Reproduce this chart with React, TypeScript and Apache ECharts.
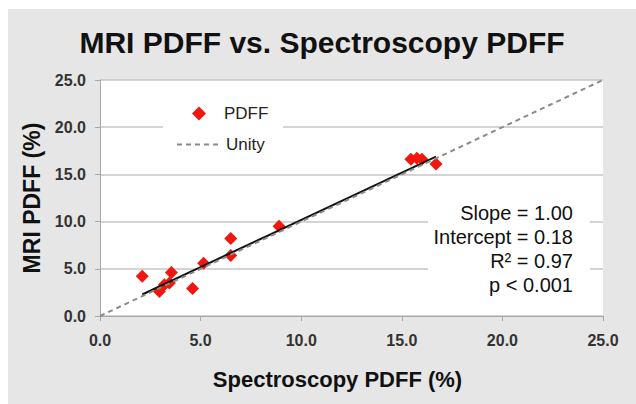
import React, { useEffect, useRef } from "react";
import * as echarts from "echarts";

const spectroscopyPDFF = [2.1, 2.95, 3.2, 3.45, 3.55, 4.6, 5.15, 6.5, 6.5, 8.9, 15.45, 15.75, 16.0, 16.7];
const mriPDFF = [4.2, 2.6, 3.3, 3.5, 4.6, 2.9, 5.6, 8.2, 6.4, 9.5, 16.6, 16.7, 16.6, 16.1];
const tickValues = [0, 5, 10, 15, 20, 25];
const unityLine = [0, 25];
const fitSlope = 1.0;
const fitIntercept = 0.18;
const statLines = ["Slope = 1.00", "Intercept = 0.18", "R\u00B2 = 0.97", "p < 0.001"];

export default function App() {
  const ref = useRef<HTMLDivElement>(null);
  useEffect(() => {
    if (!ref.current) return;
    const chart = echarts.init(ref.current, undefined, { renderer: "svg" });
    const points = spectroscopyPDFF.map((x, i) => [x, mriPDFF[i]]);
    const xMin = Math.min(...spectroscopyPDFF);
    const xMax = Math.max(...spectroscopyPDFF);
    const fit = [
      [xMin, fitSlope * xMin + fitIntercept],
      [xMax, fitSlope * xMax + fitIntercept],
    ];
    const font = "'Liberation Sans', Arial, Helvetica, sans-serif";
    const axisCommon = {
      min: tickValues[0],
      max: tickValues[tickValues.length - 1],
      interval: 5,
      axisLine: { show: true, lineStyle: { color: "#a8a8a8", width: 1 } },
      axisTick: { show: true, length: 5, lineStyle: { color: "#a8a8a8" } },
      splitLine: { show: false },
      axisLabel: {
        formatter: (v: number) => v.toFixed(1),
        color: "#333",
        fontSize: 16,
        fontWeight: "bold" as const,
        fontFamily: font,
      },
      nameLocation: "middle" as const,
      nameTextStyle: { fontSize: 23, fontWeight: "bold" as const, color: "#111", fontFamily: font },
    };
    const legendBase = {
      orient: "vertical" as const,
      backgroundColor: "transparent",
      itemHeight: 14,
      textStyle: { fontSize: 17, color: "#222", fontFamily: font },
      padding: 0,
    };
    chart.setOption({
      animation: false,
      backgroundColor: "#e6e6e6",
      title: {
        text: "MRI PDFF vs. Spectroscopy PDFF",
        left: "center",
        top: 13,
        textStyle: { fontSize: 30, fontWeight: "bold", color: "#111", fontFamily: font },
      },
      grid: {
        left: 92,
        right: 33,
        top: 71,
        bottom: 88,
        show: true,
        backgroundColor: "#ffffff",
        borderWidth: 0,
      },
      legend: [
        {
          ...legendBase,
          left: 184,
          top: 96,
          itemWidth: 14,
          textStyle: { ...legendBase.textStyle, padding: [0, 0, 0, 13] },
          data: [{ name: "PDFF", icon: "diamond" }],
        },
        {
          ...legendBase,
          left: 168,
          top: 127,
          itemWidth: 44,
          data: [{ name: "Unity", itemStyle: { opacity: 0 } }],
        },
      ],
      xAxis: {
        type: "value",
        ...axisCommon,
        name: "Spectroscopy PDFF (%)",
        nameGap: 52,
        nameTextStyle: { ...axisCommon.nameTextStyle, fontSize: 22, padding: [0, 28, 0, 0] },
        axisLabel: { ...axisCommon.axisLabel, margin: 16 },
      },
      yAxis: {
        type: "value",
        ...axisCommon,
        name: "MRI PDFF (%)",
        nameGap: 49,
        splitLine: { show: true, lineStyle: { color: "#c6c6c6", width: 1.5 } },
        axisLabel: { ...axisCommon.axisLabel, margin: 14 },
      },
      series: [
        {
          name: "PDFF",
          type: "scatter",
          data: points,
          symbol: "diamond",
          symbolSize: 13,
          itemStyle: { color: "#f2160c", opacity: 1 },
          z: 2,
        },
        {
          name: "Fit",
          type: "line",
          data: fit,
          symbol: "none",
          lineStyle: { color: "#111", width: 2 },
          z: 3,
        },
        {
          name: "Unity",
          type: "line",
          data: unityLine.map((v) => [v, v]),
          symbol: "none",
          lineStyle: { color: "#8a8a8a", width: 2, type: [5, 4] },
          itemStyle: { color: "#8a8a8a" },
          z: 4,
        },
      ],
      graphic: [
        {
          type: "rect",
          left: 155,
          top: 89,
          shape: { width: 120, height: 57 },
          style: { fill: "#ffffff" },
          z: 1,
          silent: true,
        },
        {
          type: "rect",
          left: 420,
          top: 186,
          shape: { width: 162, height: 104 },
          style: { fill: "#ffffff" },
          z: 5,
        },
        ...statLines.map((t, i) => ({
          type: "text",
          x: 565,
          y: 204 + i * 24,
          z: 6,
          style: {
            text: t,
            fontSize: 20,
            align: "right",
            verticalAlign: "middle",
            fill: "#111",
            fontFamily: font,
          },
        })),
      ],
    });
    return () => chart.dispose();
  }, []);
  return (
    <div
      ref={ref}
      style={{ position: "fixed", left: 8, top: 9, width: 628, height: 395 }}
    />
  );
}
